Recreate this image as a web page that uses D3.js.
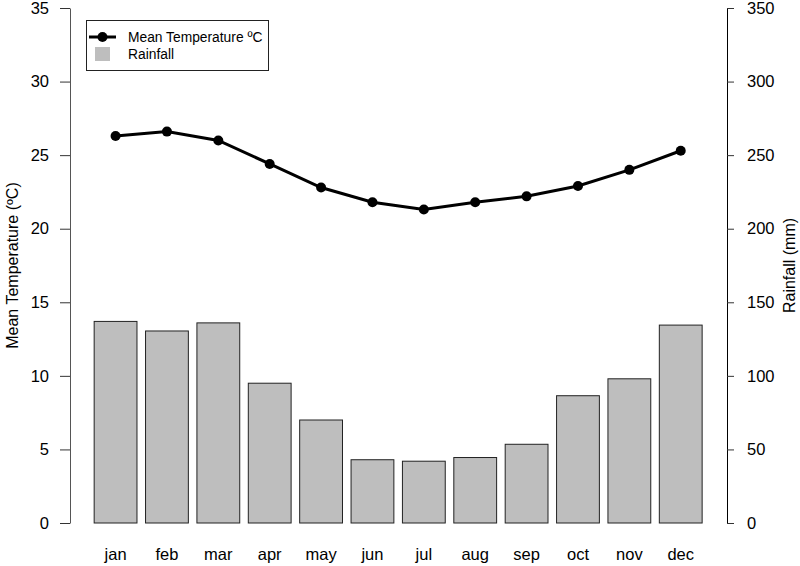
<!DOCTYPE html>
<html>
<head>
<meta charset="utf-8">
<script src="https://cdnjs.cloudflare.com/ajax/libs/d3/7.8.5/d3.min.js"></script>
<style>
  body { margin: 0; background: #fff; }
  text { font-family: "Liberation Sans", Arial, sans-serif; fill: #000; }
</style>
</head>
<body>
<svg id="chart" width="800" height="566"></svg>
<script>
// Data
const months = ["jan", "feb", "mar", "apr", "may", "jun", "jul", "aug", "sep", "oct", "nov", "dec"];
const rainfall = [137, 130.5, 136, 95, 70, 43, 42, 44.5, 53.5, 86.5, 98, 134.5];
const meanTemp = [26.3, 26.6, 26.0, 24.4, 22.8, 21.8, 21.3, 21.8, 22.2, 22.9, 24.0, 25.3];
const tempTicks = [0, 5, 10, 15, 20, 25, 30, 35];
const rainTicks = [0, 50, 100, 150, 200, 250, 300, 350];

const svg = d3.select("#chart");

// plot region
const plot = { left: 70, right: 727, top: 8, bottom: 523 };

// Scales
const xScale = d3.scaleBand()
                 .domain(months)
                 .range([85.6, 710.7])
                 .paddingInner(1 / 6)
                 .paddingOuter(1 / 6);
const yTemp = d3.scaleLinear()
                .domain([0, 35])
                .range([plot.bottom, plot.top]);
const yRain = d3.scaleLinear()
                .domain([0, 350])
                .range([plot.bottom, plot.top]);

// Bars
svg.selectAll(".bar")
  .data(months)
  .join("rect")
    .attr("class", "bar")
    .attr("x", d => xScale(d))
    .attr("width", xScale.bandwidth())
    .attr("y", (d, i) => yRain(rainfall[i]))
    .attr("height", (d, i) => yRain(0) - yRain(rainfall[i]))
    .attr("fill", "#bebebe")
    .attr("stroke", "#222")
    .attr("stroke-width", 1);

// Temperature line
const line = d3.line()
               .x((d, i) => xScale(months[i]) + xScale.bandwidth() / 2)
               .y(d => yTemp(d));
svg.append("path")
   .datum(meanTemp)
   .attr("d", line)
   .attr("fill", "none")
   .attr("stroke", "#000")
   .attr("stroke-width", 3);
svg.selectAll(".pt")
  .data(meanTemp)
  .join("circle")
    .attr("class", "pt")
    .attr("cx", (d, i) => xScale(months[i]) + xScale.bandwidth() / 2)
    .attr("cy", d => yTemp(d))
    .attr("r", 5)
    .attr("fill", "#000");

// Left axis
const leftAxis = svg.append("g")
  .attr("transform", `translate(${plot.left},0)`)
  .call(d3.axisLeft(yTemp).tickValues(tempTicks).tickSize(10).tickPadding(11).tickSizeOuter(0));
leftAxis.select(".domain").attr("stroke", "#555");
leftAxis.selectAll(".tick line").attr("stroke", "#333");
leftAxis.selectAll("text").style("font-size", "16.5px");

// Right axis
const rightAxis = svg.append("g")
  .attr("transform", `translate(${plot.right},0)`)
  .call(d3.axisRight(yRain).tickValues(rainTicks).tickSize(7).tickPadding(13).tickSizeOuter(0));
rightAxis.select(".domain").attr("stroke", "#000");
rightAxis.selectAll(".tick line").attr("stroke", "#333");
rightAxis.selectAll("text").style("font-size", "16.5px");

// Month labels (no axis line)
svg.selectAll(".month")
  .data(months)
  .join("text")
    .attr("class", "month")
    .attr("x", d => xScale(d) + xScale.bandwidth() / 2)
    .attr("y", 560)
    .attr("text-anchor", "middle")
    .style("font-size", "16.5px")
    .text(d => d);

// Axis titles
svg.append("text")
   .attr("transform", `translate(18,${(plot.top + plot.bottom) / 2}) rotate(-90)`)
   .attr("text-anchor", "middle")
   .style("font-size", "16px")
   .text("Mean Temperature (ºC)");
svg.append("text")
   .attr("transform", `translate(795,${(plot.top + plot.bottom) / 2}) rotate(-90)`)
   .attr("text-anchor", "middle")
   .style("font-size", "16px")
   .text("Rainfall (mm)");

// Legend
const legend = svg.append("g");
legend.append("rect")
      .attr("x", 86.5).attr("y", 20.5)
      .attr("width", 182).attr("height", 50)
      .attr("fill", "#fff")
      .attr("stroke", "#222");
legend.append("line")
      .attr("x1", 89).attr("x2", 116)
      .attr("y1", 37).attr("y2", 37)
      .attr("stroke", "#000").attr("stroke-width", 3);
legend.append("circle")
      .attr("cx", 102.5).attr("cy", 37).attr("r", 5).attr("fill", "#000");
legend.append("text")
      .attr("x", 128).attr("y", 42)
      .style("font-size", "13.8px")
      .text("Mean Temperature ºC");
legend.append("rect")
      .attr("x", 95).attr("y", 47)
      .attr("width", 15).attr("height", 14)
      .attr("fill", "#bebebe");
legend.append("text")
      .attr("x", 128).attr("y", 59)
      .style("font-size", "13.8px")
      .text("Rainfall");
</script>
</body>
</html>
